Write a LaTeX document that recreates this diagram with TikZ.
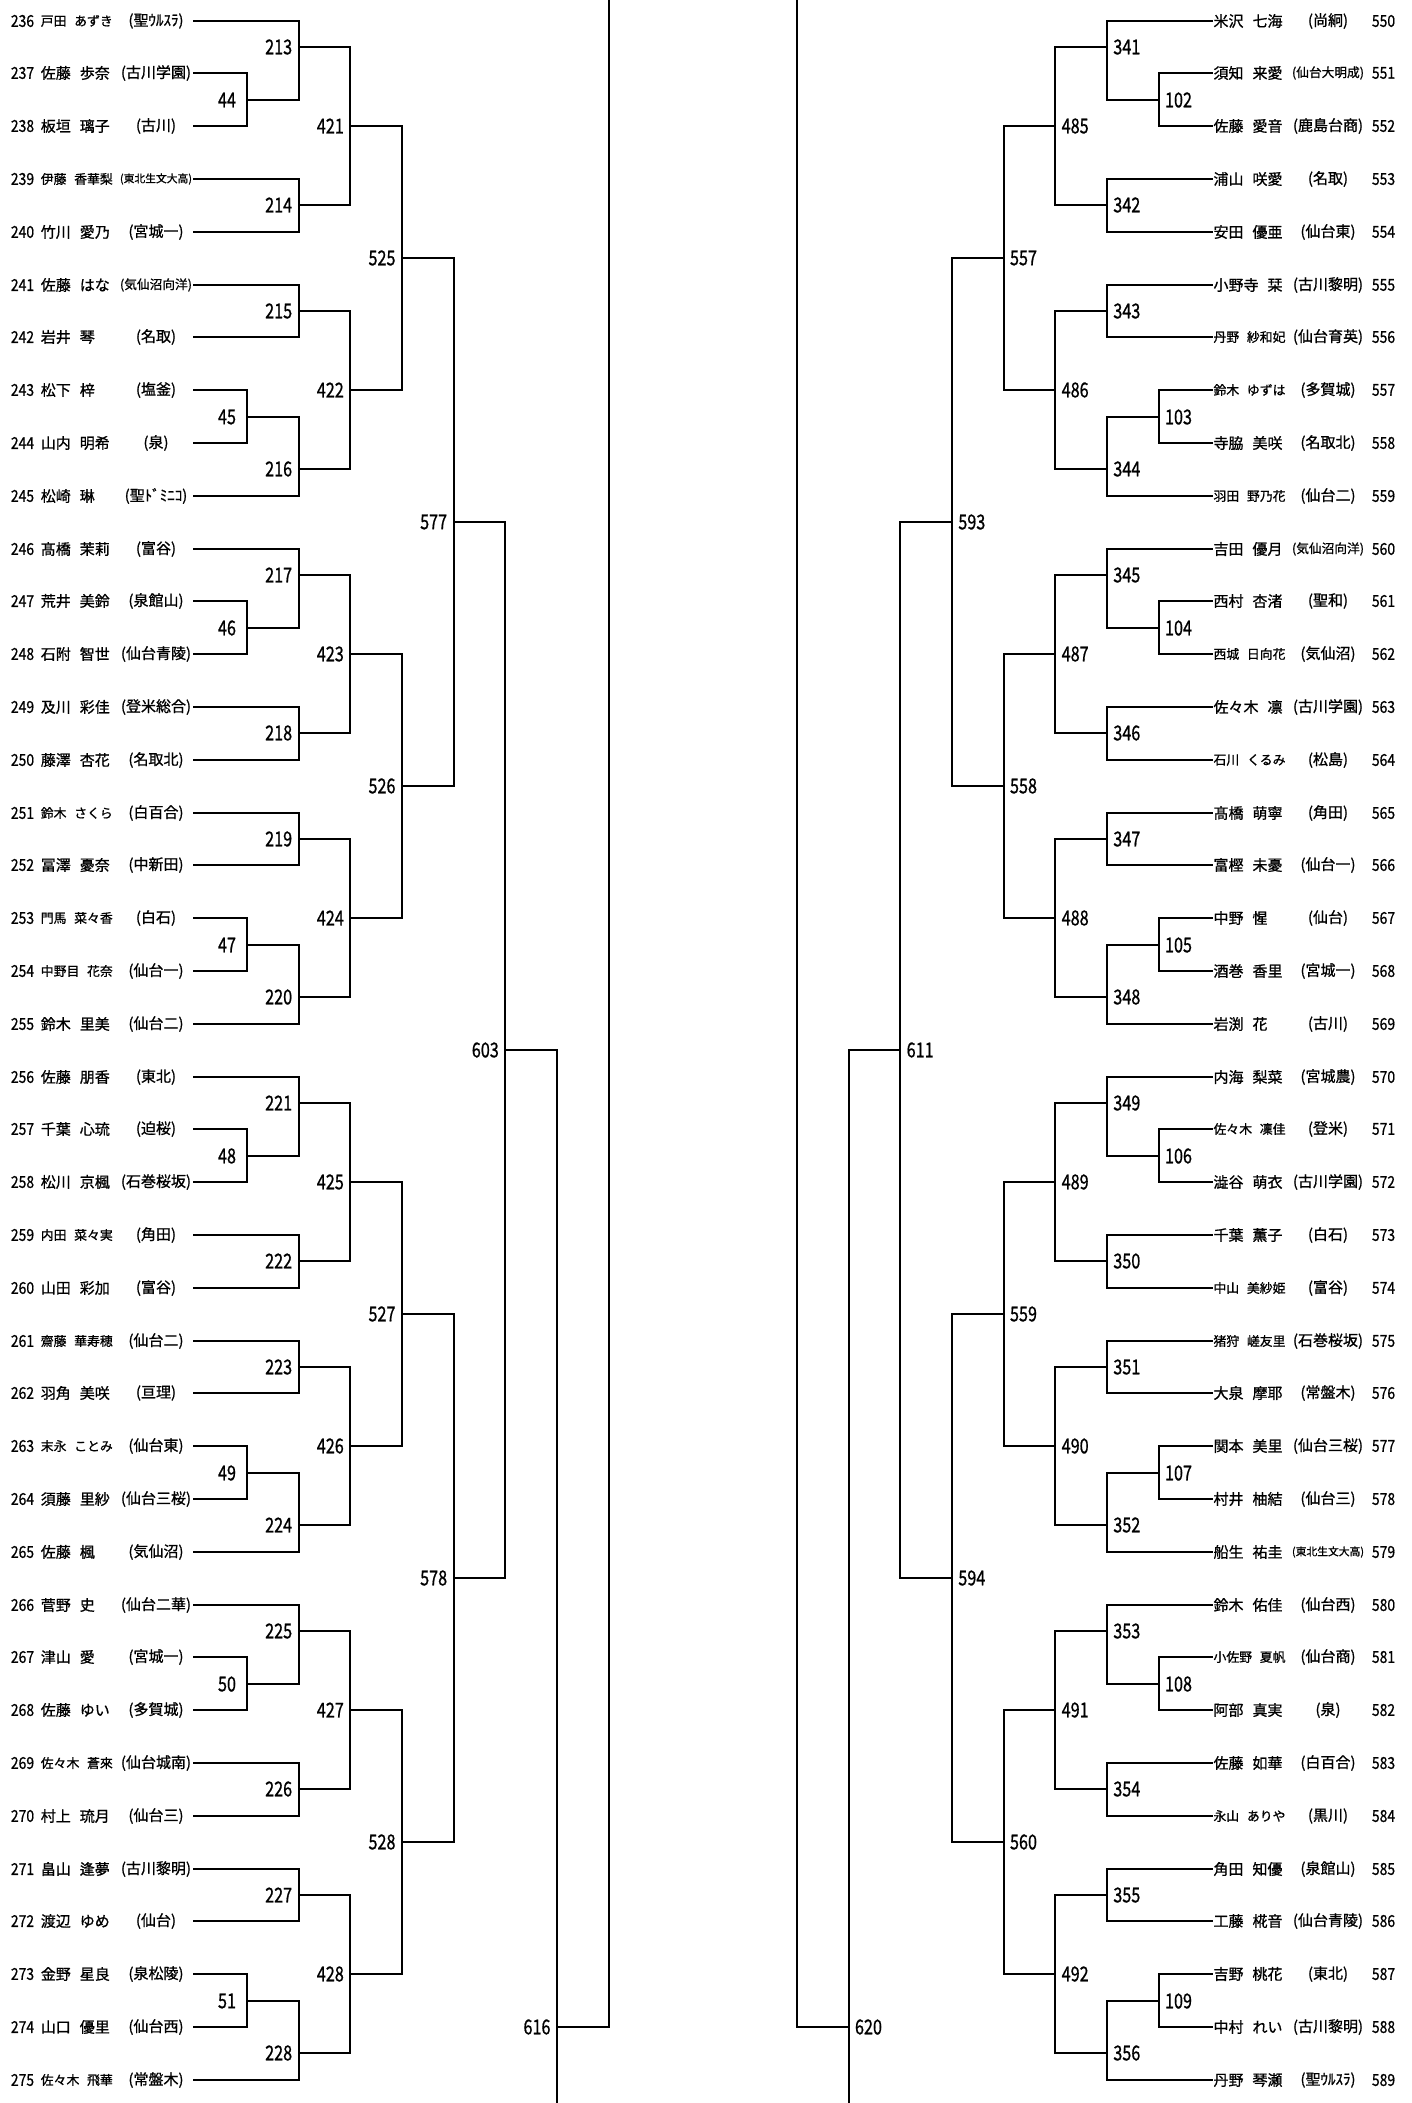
\documentclass[tikz,border=0pt]{standalone}
\usepackage{fontspec}
\usepackage{graphicx}
\setmainfont{Noto Sans CJK JP}[FakeBold=0.9]
\newsavebox\fitbx
\newcommand\fitw[2]{\sbox\fitbx{#2}\ifdim\wd\fitbx>#1\relax\resizebox{#1}{!}{\usebox\fitbx}\else\usebox\fitbx\fi}
\newcommand\cnumR[1]{\scalebox{0.85}[1]{#1}}
\newcommand\cnumM[1]{\scalebox{0.79}[1]{#1}}
\pgfmathdeclarefunction{rowy}{1}{\pgfmathparse{floor(21+52.8*(#1))}}
\pgfmathdeclarefunction{colx}{1}{\pgfmathparse{floor(#1+0.5)}}
% #1 name, #2 x, #3 top, #4 bottom, #5 out, #6 next x, #7 label x, #8 label
\newcommand\brk[8]{%
  \coordinate (#1t) at ({colx(#2)},{rowy(#3)});
  \coordinate (#1b) at ({colx(#2)},{rowy(#4)});
  \coordinate (#1o) at ({colx(#2)},{rowy(#5)});
  \coordinate (#1n) at ({colx(#6)},{rowy(#5)});
  \draw[br] (#1t) -- (#1b);
  \draw[br] (#1o) -- (#1n);
  \node[mnum] (#1) at ({#7},{rowy(#5)}) {\cnumM{#8}};
}
\def\cA{247}\def\cB{298.67}\def\cC{350.33}\def\cD{402}
\def\cE{453.67}\def\cF{505.33}\def\cG{557}\def\cH{608.67}
\def\dA{1158.5}\def\dB{1106.83}\def\dC{1055.17}\def\dD{1003.5}
\def\dE{951.83}\def\dF{900.17}\def\dG{848.5}\def\dH{796.83}
\begin{document}
\begin{tikzpicture}[x=1pt,y=-1pt,
  br/.style={line width=2pt,line cap=rect,black},
  rnum/.style={inner sep=0pt,anchor=west,font=\fontsize{16.4}{18}\selectfont},
  pname/.style={inner sep=0pt,anchor=west,font=\fontsize{15}{17}\selectfont},
  school/.style={inner sep=0pt,anchor=center,font=\fontsize{15}{17}\selectfont},
  mnum/.style={inner sep=0pt,anchor=center,font=\fontsize{20.5}{22}\selectfont}]
\fill[white] (0,0) rectangle (1412,2103);
\path[use as bounding box] (0,0) rectangle (1412,2103);
% ---------- left players ----------
\foreach \n/\fam/\giv/\sc [count=\k from 0] in {
236/戸田/あずき/聖ｳﾙｽﾗ, 237/佐藤/歩奈/古川学園, 238/板垣/璃子/古川,
239/伊藤/香華梨/東北生文大高, 240/竹川/愛乃/宮城一, 241/佐藤/はな/気仙沼向洋,
242/岩井/琴/名取, 243/松下/梓/塩釜, 244/山内/明希/泉, 245/松崎/琳/聖ﾄﾞﾐﾆｺ,
246/髙橋/茉莉/富谷, 247/荒井/美鈴/泉館山, 248/石附/智世/仙台青陵,
249/及川/彩佳/登米総合, 250/藤澤/杏花/名取北, 251/鈴木/さくら/白百合,
252/冨澤/憂奈/中新田, 253/門馬/菜々香/白石, 254/中野目/花奈/仙台一,
255/鈴木/里美/仙台二, 256/佐藤/朋香/東北, 257/千葉/心琉/迫桜,
258/松川/京楓/石巻桜坂, 259/内田/菜々実/角田, 260/山田/彩加/富谷,
261/齋藤/華寿穂/仙台二, 262/羽角/美咲/亘理, 263/末永/ことみ/仙台東,
264/須藤/里紗/仙台三桜, 265/佐藤/楓/気仙沼, 266/菅野/史/仙台二華,
267/津山/愛/宮城一, 268/佐藤/ゆい/多賀城, 269/佐々木/蒼來/仙台城南,
270/村上/琉月/仙台三, 271/畠山/逢夢/古川黎明, 272/渡辺/ゆめ/仙台,
273/金野/星良/泉松陵, 274/山口/優里/仙台西, 275/佐々木/飛華/常盤木}{
  \pgfmathtruncatemacro\r{mod(\k,10)}
  \pgfmathsetmacro\xe{(\r==1||\r==2||\r==7||\r==8)?\cA:\cB}
  \pgfmathsetmacro\yy{rowy(\k)}
  \node[rnum] (n\n) at (10.7,\yy) {\cnumR{\n}};
  \node[pname] (p\n) at (40.6,\yy) {\fitw{72pt}{\fam\hspace{0.6em}\giv}};
  \node[school] (s\n) at (156,\yy) {\fitw{72pt}{(\sc)}};
  \coordinate (ls\n) at ({colx(194)},\yy);
  \coordinate (le\n) at ({colx(\xe)},\yy);
  \draw[br] (ls\n) -- (le\n);
}
% ---------- right players ----------
\foreach \n/\fam/\giv/\sc [count=\k from 0] in {
550/米沢/七海/尚絅, 551/須知/来愛/仙台大明成, 552/佐藤/愛音/鹿島台商,
553/浦山/咲愛/名取, 554/安田/優亜/仙台東, 555/小野寺/栞/古川黎明,
556/丹野/紗和妃/仙台育英, 557/鈴木/ゆずは/多賀城, 558/寺脇/美咲/名取北,
559/羽田/野乃花/仙台二, 560/吉田/優月/気仙沼向洋, 561/西村/杏渚/聖和,
562/西城/日向花/気仙沼, 563/佐々木/凛/古川学園, 564/石川/くるみ/松島,
565/髙橋/萌寧/角田, 566/富樫/未憂/仙台一, 567/中野/惺/仙台,
568/酒巻/香里/宮城一, 569/岩渕/花/古川, 570/内海/梨菜/宮城農,
571/佐々木/凜佳/登米, 572/澁谷/萌衣/古川学園, 573/千葉/薫子/白石,
574/中山/美紗姫/富谷, 575/猪狩/嵯友里/石巻桜坂, 576/大泉/摩耶/常盤木,
577/関本/美里/仙台三桜, 578/村井/柚結/仙台三, 579/船生/祐圭/東北生文大高,
580/鈴木/佑佳/仙台西, 581/小佐野/夏帆/仙台商, 582/阿部/真実/泉,
583/佐藤/如華/白百合, 584/永山/ありや/黒川, 585/角田/知優/泉館山,
586/工藤/椛音/仙台青陵, 587/吉野/桃花/東北, 588/中村/れい/古川黎明,
589/丹野/琴瀬/聖ｳﾙｽﾗ}{
  \pgfmathtruncatemacro\r{mod(\k,10)}
  \pgfmathsetmacro\xe{(\r==1||\r==2||\r==7||\r==8)?\dA:\dB}
  \pgfmathsetmacro\yy{rowy(\k)}
  \node[pname] (p\n) at (1213.3,\yy) {\fitw{72pt}{\fam\hspace{0.6em}\giv}};
  \node[school] (s\n) at (1328,\yy) {\fitw{72pt}{(\sc)}};
  \node[rnum] (n\n) at (1371.7,\yy) {\cnumR{\n}};
  \coordinate (ls\n) at ({colx(\xe)},\yy);
  \coordinate (le\n) at ({colx(1211.5)},\yy);
  \draw[br] (ls\n) -- (le\n);
}
% ---------- blocks ----------
\foreach \b in {0,1,2,3}{
  \pgfmathtruncatemacro\K{10*\b}
  \pgfmathtruncatemacro\la{44+2*\b}\pgfmathtruncatemacro\lb{45+2*\b}
  \pgfmathtruncatemacro\ma{213+4*\b}\pgfmathtruncatemacro\mb{214+4*\b}
  \pgfmathtruncatemacro\mc{215+4*\b}\pgfmathtruncatemacro\md{216+4*\b}
  \pgfmathtruncatemacro\ta{421+2*\b}\pgfmathtruncatemacro\tb{422+2*\b}
  \pgfmathtruncatemacro\fa{525+\b}
  \brk{m\la}{\cA}{\K+1}{\K+2}{\K+1.5}{\cB}{\cA-20}{\la}
  \brk{m\lb}{\cA}{\K+7}{\K+8}{\K+7.5}{\cB}{\cA-20}{\lb}
  \brk{m\ma}{\cB}{\K+0}{\K+1.5}{\K+0.5}{\cC}{\cB-20}{\ma}
  \brk{m\mb}{\cB}{\K+3}{\K+4}{\K+3.5}{\cC}{\cB-20}{\mb}
  \brk{m\mc}{\cB}{\K+5}{\K+6}{\K+5.5}{\cC}{\cB-20}{\mc}
  \brk{m\md}{\cB}{\K+7.5}{\K+9}{\K+8.5}{\cC}{\cB-20}{\md}
  \brk{m\ta}{\cC}{\K+0.5}{\K+3.5}{\K+2}{\cD}{\cC-20}{\ta}
  \brk{m\tb}{\cC}{\K+5.5}{\K+8.5}{\K+7}{\cD}{\cC-20}{\tb}
  \brk{m\fa}{\cD}{\K+2}{\K+7}{\K+4.5}{\cE}{\cD-20}{\fa}
  % right
  \pgfmathtruncatemacro\qa{102+2*\b}\pgfmathtruncatemacro\qb{103+2*\b}
  \pgfmathtruncatemacro\sa{341+4*\b}\pgfmathtruncatemacro\sb{342+4*\b}
  \pgfmathtruncatemacro\sc{343+4*\b}\pgfmathtruncatemacro\sd{344+4*\b}
  \pgfmathtruncatemacro\ua{485+2*\b}\pgfmathtruncatemacro\ub{486+2*\b}
  \pgfmathtruncatemacro\va{557+\b}
  \brk{r\qa}{\dA}{\K+1}{\K+2}{\K+1.5}{\dB}{\dA+20}{\qa}
  \brk{r\qb}{\dA}{\K+7}{\K+8}{\K+7.5}{\dB}{\dA+20}{\qb}
  \brk{r\sa}{\dB}{\K+0}{\K+1.5}{\K+0.5}{\dC}{\dB+20}{\sa}
  \brk{r\sb}{\dB}{\K+3}{\K+4}{\K+3.5}{\dC}{\dB+20}{\sb}
  \brk{r\sc}{\dB}{\K+5}{\K+6}{\K+5.5}{\dC}{\dB+20}{\sc}
  \brk{r\sd}{\dB}{\K+7.5}{\K+9}{\K+8.5}{\dC}{\dB+20}{\sd}
  \brk{r\ua}{\dC}{\K+0.5}{\K+3.5}{\K+2}{\dD}{\dC+20}{\ua}
  \brk{r\ub}{\dC}{\K+5.5}{\K+8.5}{\K+7}{\dD}{\dC+20}{\ub}
  \brk{r\va}{\dD}{\K+2}{\K+7}{\K+4.5}{\dE}{\dD+20}{\va}
}
% ---------- centre ----------
\brk{m577}{\cE}{4.5}{14.5}{9.5}{\cF}{\cE-20}{577}
\brk{m578}{\cE}{24.5}{34.5}{29.5}{\cF}{\cE-20}{578}
\brk{m603}{\cF}{9.5}{29.5}{19.5}{\cG}{\cF-20}{603}
\brk{m616}{\cG}{19.5}{39.7}{38}{\cH}{\cG-20}{616}
\coordinate (top616) at ({colx(\cH)},-10);
\draw[br] (m616n) -- (top616);
\brk{r593}{\dE}{4.5}{14.5}{9.5}{\dF}{\dE+20}{593}
\brk{r594}{\dE}{24.5}{34.5}{29.5}{\dF}{\dE+20}{594}
\brk{r611}{\dF}{9.5}{29.5}{19.5}{\dG}{\dF+20}{611}
\brk{r620}{\dG}{19.5}{39.7}{38}{\dH}{\dG+20}{620}
\coordinate (top620) at ({colx(\dH)},-10);
\draw[br] (r620n) -- (top620);
\end{tikzpicture}
\end{document}
